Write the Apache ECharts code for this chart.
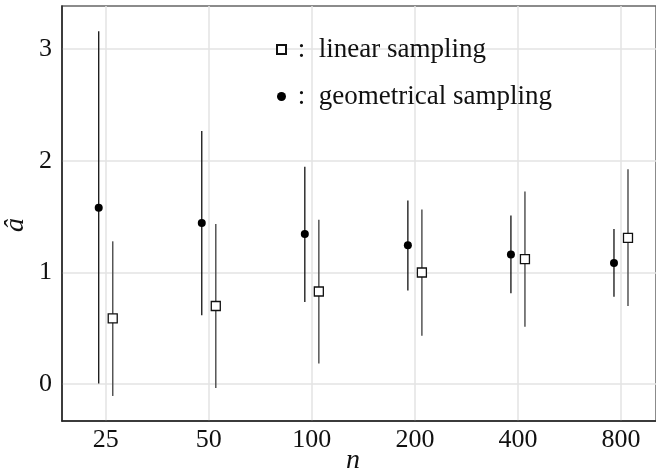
<!DOCTYPE html>
<html><head><meta charset="utf-8">
<script src="https://cdn.jsdelivr.net/npm/echarts@6/dist/echarts.min.js"></script>
</head><body style="margin:0;background:#fff">
<div id="c" style="width:656px;height:476px"></div>
<script>
// ---- data ----
const nValues = [25, 50, 100, 200, 400, 800];
const tickLabels = ['25', '50', '100', '200', '400', '800'];
const yTicks = [0, 1, 2, 3];
const linMean = [0.59, 0.70, 0.83, 1.00, 1.12, 1.31];
const linLow  = [-0.105, -0.033, 0.186, 0.434, 0.515, 0.700];
const linHigh = [1.279, 1.435, 1.473, 1.563, 1.725, 1.923];
const geoMean = [1.58, 1.444, 1.345, 1.243, 1.162, 1.085];
const geoLow  = [0.006, 0.617, 0.737, 0.838, 0.815, 0.784];
const geoHigh = [3.16, 2.267, 1.947, 1.644, 1.509, 1.390];
const seriesNames = ['linear sampling', 'geometrical sampling'];

// ---- layout ----
const dodge = 0.068; // horizontal dodge in log2 units
const lx = nValues.map(n => Math.log2(n));
const geoX = lx.map(v => v - dodge);
const linX = lx.map(v => v + dodge);

function errBar(color, width) {
  return function (params, api) {
    const x = api.value(0);
    const p1 = api.coord([x, api.value(1)]);
    const p2 = api.coord([x, api.value(2)]);
    return {
      type: 'line',
      shape: { x1: p1[0], y1: p1[1], x2: p2[0], y2: p2[1] },
      style: { stroke: color, lineWidth: width }
    };
  };
}

const c = echarts.init(document.getElementById('c'));
c.setOption({
  animation: false,
  grid: {
    left: 62, right: -3, top: 6, bottom: 55,
    show: true, borderColor: '#666', borderWidth: 1.5
  },
  legend: {
    orient: 'vertical',
    left: 271, top: 31,
    itemWidth: 9, itemHeight: 9,
    itemGap: 20,
    data: [seriesNames[0], seriesNames[1]],
    formatter: name => ' :  ' + name,
    textStyle: { fontFamily: 'Liberation Serif', fontSize: 27, color: '#111' }
  },
  xAxis: {
    type: 'value',
    min: Math.log2(25) - 43.7 / 103,
    max: Math.log2(25) + 550 / 103,
    axisLine: { show: true, onZero: false, lineStyle: { color: '#222', width: 1.5 } },
    axisTick: { show: false, customValues: lx },
    axisLabel: {
      customValues: lx,
      formatter: v => tickLabels[lx.findIndex(t => Math.abs(t - v) < 1e-6)] || '',
      fontFamily: 'Liberation Serif', fontSize: 26, color: '#111', margin: 6
    },
    splitLine: { show: true, lineStyle: { color: '#e3e3e3', width: 1.5 } }
  },
  yAxis: {
    type: 'value',
    min: -0.329, max: 3.385,
    axisLine: { show: true, onZero: false, lineStyle: { color: '#222', width: 1.5 } },
    axisTick: { show: false, customValues: yTicks },
    axisLabel: {
      customValues: yTicks,
      fontFamily: 'Liberation Serif', fontSize: 26, color: '#111', margin: 10
    },
    splitLine: { show: true, lineStyle: { color: '#e3e3e3', width: 1.5 } }
  },
  graphic: [
    {
      type: 'text', x: 16, y: 225, rotation: Math.PI / 2,
      style: { text: 'â', fontFamily: 'Liberation Serif', fontStyle: 'italic', fontSize: 28, fill: '#111', align: 'center', verticalAlign: 'middle' }
    },
    {
      type: 'text', x: 353, y: 461,
      style: { text: 'n', fontFamily: 'Liberation Serif', fontStyle: 'italic', fontSize: 28, fill: '#111', align: 'center', verticalAlign: 'middle' }
    }
  ],
  series: [
    {
      type: 'custom', name: 'geoErr', silent: true, z: 2,
      renderItem: errBar('#111', 1.3),
      data: geoX.map((x, i) => [x, geoLow[i], geoHigh[i]])
    },
    {
      type: 'custom', name: 'linErr', silent: true, z: 2,
      renderItem: errBar('#555', 1.5),
      data: linX.map((x, i) => [x, linLow[i], linHigh[i]])
    },
    {
      type: 'scatter', name: seriesNames[0], z: 5,
      symbol: 'rect', symbolSize: 9,
      itemStyle: { color: '#fff', borderColor: '#111', borderWidth: 1.3, opacity: 1 },
      data: linX.map((x, i) => [x, linMean[i]])
    },
    {
      type: 'scatter', name: seriesNames[1], z: 5,
      symbol: 'circle', symbolSize: 8,
      itemStyle: { color: '#000', opacity: 1 },
      data: geoX.map((x, i) => [x, geoMean[i]])
    }
  ]
});
</script></body></html>
